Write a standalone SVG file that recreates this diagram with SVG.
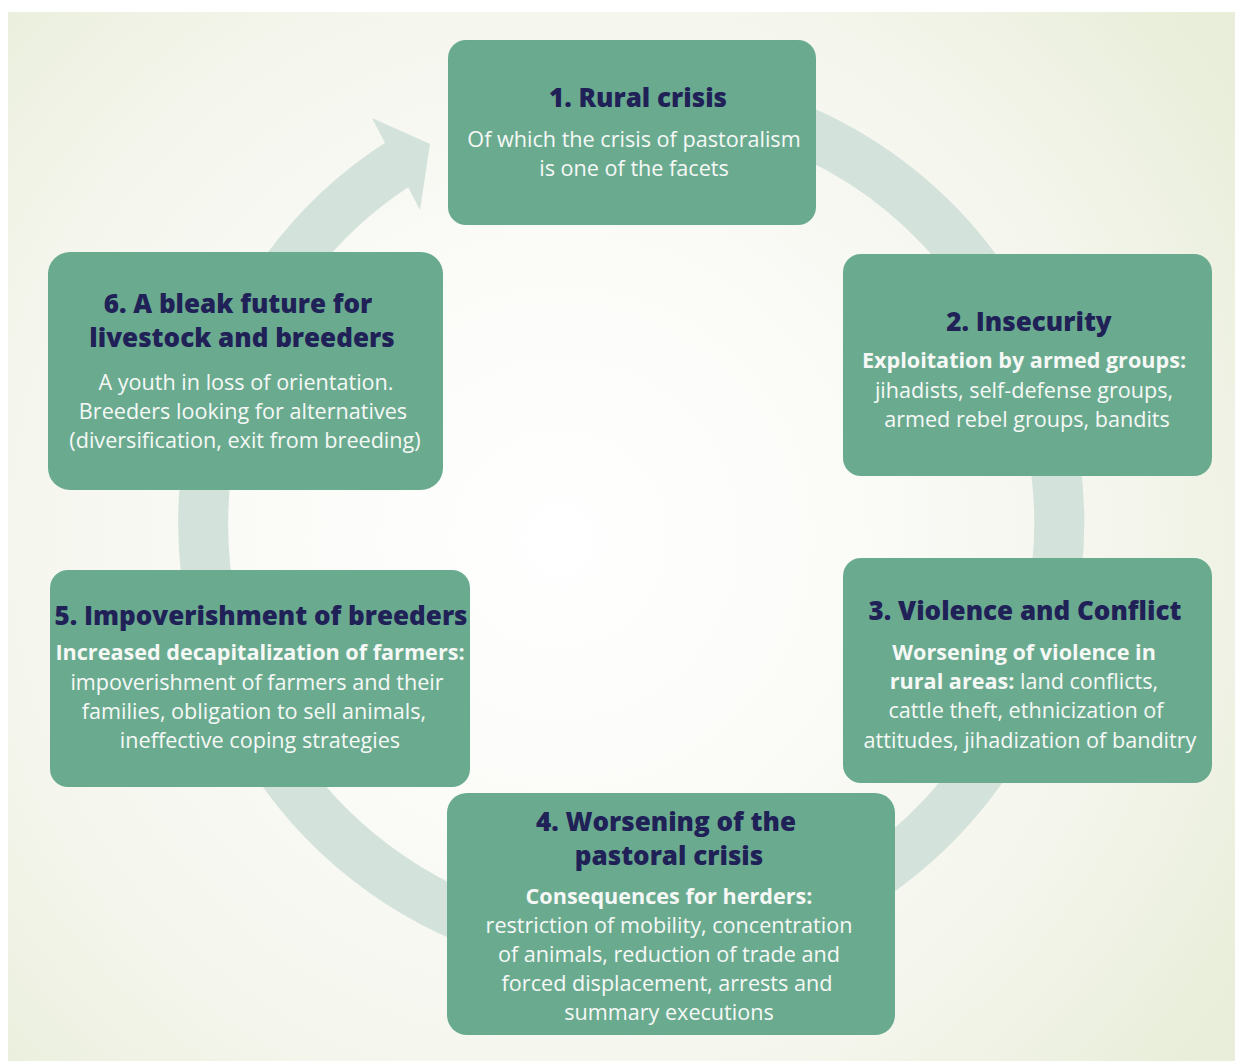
<svg xmlns="http://www.w3.org/2000/svg" width="1235" height="1061" viewBox="0 0 1235 1061">
<defs>
<radialGradient id="bg" cx="560" cy="540" r="820" gradientUnits="userSpaceOnUse">
<stop offset="0" stop-color="#ffffff"/>
<stop offset="0.35" stop-color="#fbfbf8"/>
<stop offset="0.7" stop-color="#f4f5ec"/>
<stop offset="1" stop-color="#e8eed9"/>
</radialGradient>
<style>
.box{fill:#6aab90;}
.t{font-family:"Open Sans","DejaVu Sans",sans-serif;font-weight:800;font-size:26px;fill:#1f2157;text-anchor:middle;}
.b{font-family:"Open Sans","DejaVu Sans",sans-serif;font-size:21.6px;fill:#f6f8f6;text-anchor:middle;}
.bb{font-weight:700;}
.ring{fill:none;stroke:#d3e3dc;stroke-width:50;}
.head{fill:#d3e3dc;}
</style>
</defs>
<rect x="0" y="0" width="1235" height="1061" fill="#ffffff"/>
<rect x="8" y="12" width="1227" height="1049" fill="url(#bg)"/>
<g id="connectors">
<path class="ring" d="M 556.7 101.5 A 428 428 0 1 1 404.2 160.1"/>
<polygon class="head" points="372,118 430,144 420,210"/>
</g>
<g id="node1">
<rect class="box" x="448" y="40" width="368" height="185" rx="18"/>
<text class="t" x="638" y="107">1. Rural crisis</text>
<text class="b" x="634" y="147">Of which the crisis of pastoralism</text>
<text class="b" x="634" y="176">is one of the facets</text>
</g>
<g id="node2">
<rect class="box" x="843" y="254" width="369" height="222" rx="18"/>
<text class="t" x="1029" y="331">2. Insecurity</text>
<text class="b bb" x="1024" y="368">Exploitation by armed groups:</text>
<text class="b" x="1024" y="398">jihadists, self-defense groups,</text>
<text class="b" x="1027" y="427">armed rebel groups, bandits</text>
</g>
<g id="node3">
<rect class="box" x="843" y="558" width="369" height="225" rx="18"/>
<text class="t" x="1025" y="620">3. Violence and Conflict</text>
<text class="b bb" x="1024" y="660">Worsening of violence in</text>
<text class="b" x="1024" y="689"><tspan class="bb">rural areas:</tspan> land conflicts,</text>
<text class="b" x="1026" y="718">cattle theft, ethnicization of</text>
<text class="b" x="1030" y="748">attitudes, jihadization of banditry</text>
</g>
<g id="node4">
<rect class="box" x="447" y="793" width="448" height="242" rx="20"/>
<text class="t" x="666" y="831">4. Worsening of the</text>
<text class="t" x="669" y="865">pastoral crisis</text>
<text class="b bb" x="669" y="904">Consequences for herders:</text>
<text class="b" x="669" y="933">restriction of mobility, concentration</text>
<text class="b" x="669" y="962">of animals, reduction of trade and</text>
<text class="b" x="667" y="991">forced displacement, arrests and</text>
<text class="b" x="669" y="1020">summary executions</text>
</g>
<g id="node5">
<rect class="box" x="50" y="570" width="420" height="217" rx="18"/>
<text class="t" x="261" y="625">5. Impoverishment of breeders</text>
<text class="b bb" x="260" y="660">Increased decapitalization of farmers:</text>
<text class="b" x="257" y="690">impoverishment of farmers and their</text>
<text class="b" x="254" y="719">families, obligation to sell animals,</text>
<text class="b" x="260" y="748">ineffective coping strategies</text>
</g>
<g id="node6">
<rect class="box" x="48" y="252" width="395" height="238" rx="22"/>
<text class="t" x="238" y="313">6. A bleak future for</text>
<text class="t" x="242" y="347">livestock and breeders</text>
<text class="b" x="246" y="390">A youth in loss of orientation.</text>
<text class="b" x="243" y="419">Breeders looking for alternatives</text>
<text class="b" x="245" y="448">(diversification, exit from breeding)</text>
</g>
</svg>
